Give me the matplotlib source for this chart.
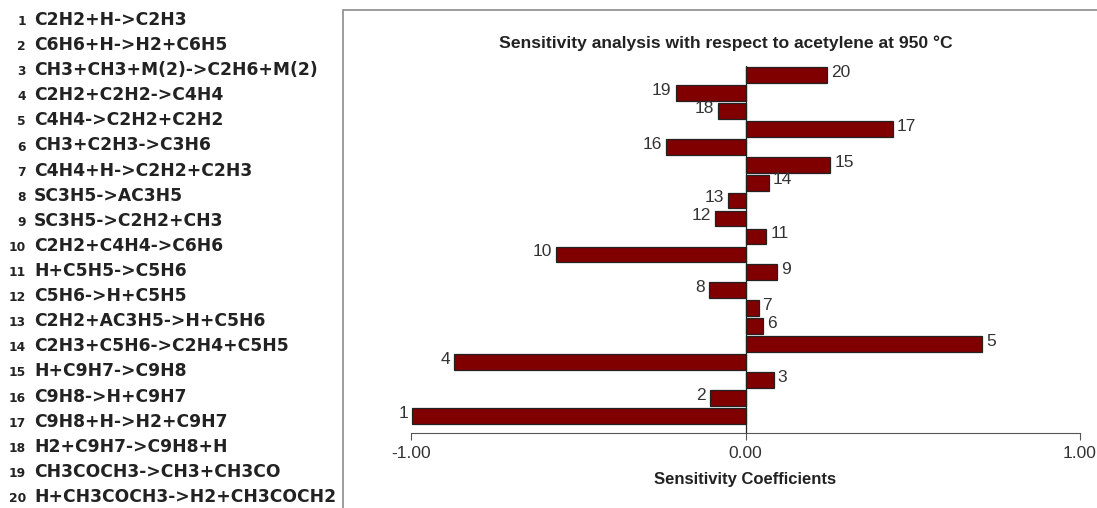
import matplotlib.pyplot as plt
from matplotlib.patches import Rectangle

reactions = [
    "C2H2+H->C2H3", "C6H6+H->H2+C6H5", "CH3+CH3+M(2)->C2H6+M(2)",
    "C2H2+C2H2->C4H4", "C4H4->C2H2+C2H2", "CH3+C2H3->C3H6",
    "C4H4+H->C2H2+C2H3", "SC3H5->AC3H5", "SC3H5->C2H2+CH3",
    "C2H2+C4H4->C6H6", "H+C5H5->C5H6", "C5H6->H+C5H5",
    "C2H2+AC3H5->H+C5H6", "C2H3+C5H6->C2H4+C5H5", "H+C9H7->C9H8",
    "C9H8->H+C9H7", "C9H8+H->H2+C9H7", "H2+C9H7->C9H8+H",
    "CH3COCH3->CH3+CH3CO", "H+CH3COCH3->H2+CH3COCH2",
]
reaction_ids = list(range(1, 21))
sensitivity = [-0.997, -0.107, 0.084, -0.872, 0.707, 0.052, 0.039, -0.11,
               0.094, -0.567, 0.062, -0.091, -0.052, 0.069, 0.253, -0.237,
               0.44, -0.082, -0.209, 0.245]
xticks = [-1.0, 0.0, 1.0]

plt.rcParams['font.family'] = ['Liberation Sans', 'DejaVu Sans']

W, H = 1097, 508
fig = plt.figure(figsize=(W / 100, H / 100), dpi=100)

# frame around the chart (clipped by the figure edge, like the source)
fig.patches.append(Rectangle((343 / W, -0.1), 1.0, (H - 10) / H + 0.1,
                             transform=fig.transFigure, fill=False,
                             edgecolor='#8c8c8c', linewidth=1.2))

# reaction list on the left
for i, (rid, name) in enumerate(zip(reaction_ids, reactions)):
    y = 1 - (20 + i * 25.1) / H
    fig.text(26 / W, y - 0.003, str(rid), ha='right', va='center', fontsize=8.8,
             fontweight='bold', color='#222222', family='DejaVu Sans')
    fig.text(34 / W, y, name, ha='left', va='center', fontsize=12.3,
             fontweight='bold', color='#222222', family='DejaVu Sans')

ax = fig.add_axes([411 / W, (H - 433) / H, (1080 - 411) / W, (433 - 66) / H])
ax.barh(reaction_ids, sensitivity, height=0.88, color='#800000',
        edgecolor='#222222', linewidth=0.9, zorder=2)
ax.set_xlim(-1, 1)
ax.set_ylim(0.05, 20.5)

for rid, v in zip(reaction_ids, sensitivity):
    off = 0.012 if v >= 0 else -0.012
    ax.text(v + off, rid + 0.15, str(rid), ha='left' if v >= 0 else 'right',
            va='center', fontsize=12.5, color='#333333')

ax.axvline(0, color='#222222', linewidth=0.9, zorder=3)
for s in ['top', 'right', 'left']:
    ax.spines[s].set_visible(False)
ax.spines['bottom'].set_color('#555555')
ax.set_yticks([])
ax.set_xticks(xticks)
ax.set_xticklabels(['%.2f' % t for t in xticks], fontsize=12.5,
                   color='#333333')
ax.tick_params(axis='x', length=5, color='#555555', pad=4)
ax.set_xlabel('Sensitivity Coefficients', fontsize=12, fontweight='bold',
              labelpad=8, color='#222222')

fig.text(726 / W, 1 - 43 / H, 'Sensitivity analysis with respect to acetylene at 950 \u00b0C',
         ha='center', va='center', fontsize=12.6, fontweight='bold',
         color='#222222')

fig.savefig('out.png', dpi=100)
